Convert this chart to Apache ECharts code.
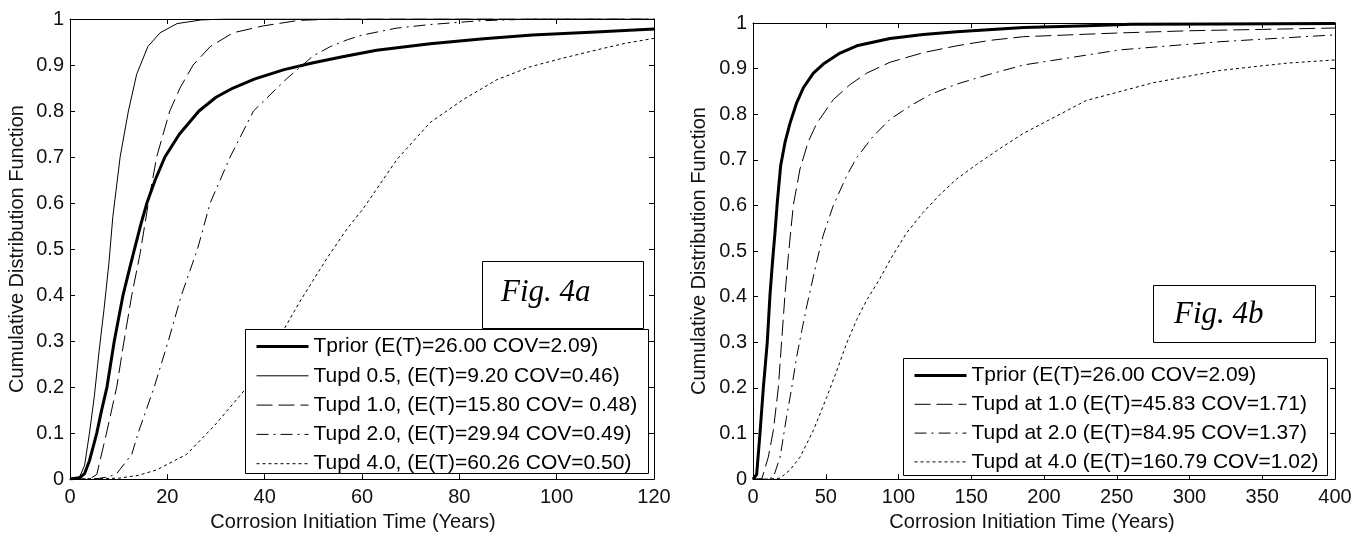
<!DOCTYPE html>
<html>
<head>
<meta charset="utf-8">
<script src="https://cdn.jsdelivr.net/npm/echarts@6/dist/echarts.min.js"></script>
<style>
html,body{margin:0;padding:0;background:#fff;}
#chart{width:1369px;height:537px;}
</style>
</head>
<body>
<div id="chart"></div>
<script>
// ---------- DATA ----------
// Fig. 4a  (x: years, y: CDF)
const tprior4a = [[0,0],[2,0.003],[3,0.012],[4,0.04],[5,0.08],[5.5,0.1],[6.5,0.15],[7.6,0.2],[9.1,0.3],[10.9,0.4],[12.3,0.46],[13.5,0.51],[14.6,0.555],[15.8,0.6],[17.5,0.65],[19.5,0.7],[22.5,0.75],[26.5,0.8],[30,0.83],[33.5,0.85],[38,0.87],[44,0.89],[50,0.905],[56,0.918],[63,0.932],[74,0.946],[85,0.957],[95,0.965],[108,0.972],[120,0.978]];
const tupd05_4a = [[0,0],[2,0.005],[3,0.03],[4,0.1],[5,0.18],[6,0.28],[7,0.37],[8,0.47],[8.8,0.57],[10.3,0.7],[12,0.8],[13.7,0.88],[16,0.94],[18.5,0.97],[22,0.99],[27,0.998],[32,1],[120,1]];
const tupd10_4a = [[0,0],[4,0],[5.5,0.01],[7.5,0.1],[9.6,0.2],[11.1,0.3],[12.7,0.4],[14.4,0.49],[16.1,0.6],[17.8,0.7],[20.5,0.8],[22.6,0.85],[25.3,0.9],[28.8,0.94],[33.5,0.97],[39.7,0.985],[47,0.997],[55,1],[120,1]];
const tupd20_4a = [[0,0],[5,0],[8,0.005],[9.6,0.012],[12.7,0.054],[14,0.1],[17.3,0.2],[20.2,0.3],[22.9,0.4],[26.2,0.5],[28.8,0.6],[32.9,0.7],[37.7,0.8],[44.5,0.87],[50,0.92],[53.5,0.94],[57,0.955],[60,0.965],[67,0.98],[74,0.988],[84,0.996],[95,1],[120,1]];
const tupd40_4a = [[0,0],[10,0.002],[14,0.008],[17.8,0.02],[24,0.054],[30,0.12],[36,0.195],[40.4,0.26],[44.2,0.33],[47.3,0.387],[52.8,0.48],[57,0.545],[60.2,0.587],[67.2,0.695],[74,0.775],[80.8,0.825],[87.7,0.868],[94.5,0.896],[101.3,0.915],[108.3,0.933],[114,0.947],[120,0.958]];
// Fig. 4b
const tprior4b = [[0,0],[2.5,0.01],[4.8,0.1],[7.1,0.2],[9.8,0.3],[11.7,0.405],[13.5,0.48],[15.1,0.54],[16.7,0.607],[19,0.687],[22,0.738],[25.4,0.78],[30,0.825],[34.6,0.858],[41.5,0.89],[48.3,0.91],[59.8,0.934],[71.3,0.95],[94.2,0.966],[117,0.975],[140,0.981],[186,0.99],[230,0.994],[260,0.997],[320,0.998],[400,0.999]];
const tupd10_4b = [[0,0],[6,0],[10.5,0.048],[14,0.107],[17.4,0.2],[19.7,0.303],[22,0.405],[24.3,0.49],[27.7,0.6],[32.3,0.68],[38,0.74],[43.8,0.78],[55.2,0.832],[66.7,0.865],[78.1,0.89],[94.2,0.914],[117,0.935],[140,0.95],[163,0.962],[186,0.97],[250,0.978],[300,0.983],[350,0.986],[400,0.989]];
const tupd20_4b = [[0,0],[10,0],[14,0.004],[18.6,0.048],[23,0.135],[26.6,0.2],[30,0.268],[33.5,0.325],[37,0.38],[40.5,0.43],[44,0.48],[48.3,0.535],[55.2,0.6],[64.4,0.665],[71.3,0.705],[82.7,0.752],[94.2,0.789],[108,0.818],[121.6,0.843],[140,0.866],[163,0.888],[186,0.908],[252,0.941],[321,0.959],[400,0.974]];
const tupd40_4b = [[0,0],[10,0],[18.6,0.002],[25.4,0.02],[32.3,0.048],[41.5,0.107],[50.6,0.179],[57.5,0.237],[64.4,0.298],[71.3,0.35],[78.1,0.392],[87.3,0.44],[95,0.485],[105.6,0.54],[117,0.585],[128.5,0.624],[140,0.658],[153.7,0.69],[167.5,0.72],[185.8,0.758],[229,0.83],[275,0.869],[321,0.896],[367,0.912],[400,0.919]];

const names4a = ['Tprior (E(T)=26.00 COV=2.09)','Tupd 0.5, (E(T)=9.20 COV=0.46)','Tupd 1.0, (E(T)=15.80 COV= 0.48)','Tupd 2.0, (E(T)=29.94 COV=0.49)','Tupd 4.0, (E(T)=60.26 COV=0.50)'];
const names4b = ['Tprior (E(T)=26.00 COV=2.09) ','Tupd at 1.0 (E(T)=45.83 COV=1.71)','Tupd at 2.0 (E(T)=84.95 COV=1.37)','Tupd at 4.0 (E(T)=160.79 COV=1.02)'];
const xTitle = 'Corrosion Initiation Time (Years)';
const yTitle = 'Cumulative Distribution Function';
const figLabels = ['Fig. 4a','Fig. 4b'];

// ---------- STYLE ----------
const FONT = 'Liberation Sans, Arial, sans-serif';
const TXT = '#111';
const styles = {
  prior: {color:'#000', width:3, type:'solid'},
  thin:  {color:'#000', width:1, type:'solid'},
  dash:  {color:'#000', width:1, type:[16,6]},
  dashdot:{color:'#000', width:1, type:[12,5,2,5]},
  dot:   {color:'#000', width:1, type:[3,3]}
};

function mkX(grid, max, interval, bottom, shift){
  return {
    type:'value', gridIndex:grid, min:0, max:max, interval:interval,
    position: bottom ? 'bottom' : 'top',
    axisLine:{show:true, onZero:false, lineStyle:{color:'#000', width:1}},
    axisTick:{show:true, inside:true, length:5, lineStyle:{color:'#000'}},
    axisLabel:{show:bottom, margin:8, color:TXT, fontSize:20, fontFamily:FONT},
    splitLine:{show:false},
    name: bottom ? xTitle : '', nameLocation:'middle', nameGap:31,
    nameTextStyle:{color:TXT, fontSize:20, fontFamily:FONT, padding:[0, shift || 0, 0, 0]}
  };
}
function mkY(grid, left, gap){
  return {
    type:'value', gridIndex:grid, min:0, max:1, interval:0.1,
    position: left ? 'left' : 'right',
    axisLine:{show:true, onZero:false, lineStyle:{color:'#000', width:1}},
    axisTick:{show:true, inside:true, length:5, lineStyle:{color:'#000'}},
    axisLabel:{show:left, margin:6, color:TXT, fontSize:20, fontFamily:FONT},
    splitLine:{show:false},
    name: left ? yTitle : '', nameLocation:'middle', nameGap:gap,
    nameTextStyle:{color:TXT, fontSize:20, fontFamily:FONT}
  };
}
function mkSeries(name, data, st, xi, yi){
  return {
    name:name, type:'line', data:data, xAxisIndex:xi, yAxisIndex:yi,
    symbol:'none', smooth:false, animation:false,
    lineStyle:{color:st.color, width:st.width, type:st.type, join:'round'},
    itemStyle:{color:st.color}, z:2
  };
}

const series = [
  mkSeries(names4a[0], tprior4a, styles.prior, 0, 0),
  mkSeries(names4a[1], tupd05_4a, styles.thin, 0, 0),
  mkSeries(names4a[2], tupd10_4a, styles.dash, 0, 0),
  mkSeries(names4a[3], tupd20_4a, styles.dashdot, 0, 0),
  mkSeries(names4a[4], tupd40_4a, styles.dot, 0, 0),
  mkSeries(names4b[0], tprior4b, styles.prior, 2, 2),
  mkSeries(names4b[1], tupd10_4b, styles.dash, 2, 2),
  mkSeries(names4b[2], tupd20_4b, styles.dashdot, 2, 2),
  mkSeries(names4b[3], tupd40_4b, styles.dot, 2, 2)
];

function legendItems(names, stList){
  return names.map((n, i) => ({
    name:n,
    lineStyle:{color:'#000', width:stList[i].width, type:stList[i].type}
  }));
}
function mkLegend(items, left, top, gap){
  return {
    data:items, orient:'vertical', left:left, top:top, padding:0,
    itemWidth:52, itemHeight:20, itemGap:gap, z:30,
    selectedMode:false, backgroundColor:'transparent',
    itemStyle:{color:'rgba(0,0,0,0)', borderColor:'rgba(0,0,0,0)', borderWidth:0},
    textStyle:{color:'#000', fontSize:21, fontFamily:FONT}
  };
}

const option = {
  backgroundColor:'#fff',
  animation:false,
  grid:[
    {left:70, top:19, width:584, height:463},
    {left:753, top:23, width:582, height:459}
  ],
  xAxis:[mkX(0,120,20,true,18), mkX(0,120,20,false), mkX(1,400,50,true,24), mkX(1,400,50,false)],
  yAxis:[mkY(0,true,43), mkY(0,false,0), mkY(1,true,44), mkY(1,false,0)],
  legend:[
    mkLegend(legendItems(names4a, [styles.prior, styles.thin, styles.dash, styles.dashdot, styles.dot]), 255, 336, 8.3),
    mkLegend(legendItems(names4b, [styles.prior, styles.dash, styles.dashdot, styles.dot]), 913, 365, 7.8)
  ],
  graphic:[
    {type:'rect', z:20, shape:{x:245.5, y:329.5, width:403, height:144}, style:{fill:'#fff', stroke:'#000', lineWidth:1}},
    {type:'rect', z:20, shape:{x:482.5, y:261.5, width:161, height:67}, style:{fill:'#fff', stroke:'#000', lineWidth:1}},
    {type:'text', z:21, left:501, top:277, style:{text:figLabels[0], font:'italic 31px "Liberation Serif", "Times New Roman", serif', fill:'#000'}},
    {type:'rect', z:20, shape:{x:903.5, y:358.5, width:424, height:117}, style:{fill:'#fff', stroke:'#000', lineWidth:1}},
    {type:'rect', z:20, shape:{x:1153.5, y:285.5, width:162, height:57}, style:{fill:'#fff', stroke:'#000', lineWidth:1}},
    {type:'text', z:21, left:1174, top:299, style:{text:figLabels[1], font:'italic 31px "Liberation Serif", "Times New Roman", serif', fill:'#000'}}
  ],
  series:series
};
const chart = echarts.init(document.getElementById('chart'), null, {renderer:'canvas'});
chart.setOption(option);
</script>
</body>
</html>
